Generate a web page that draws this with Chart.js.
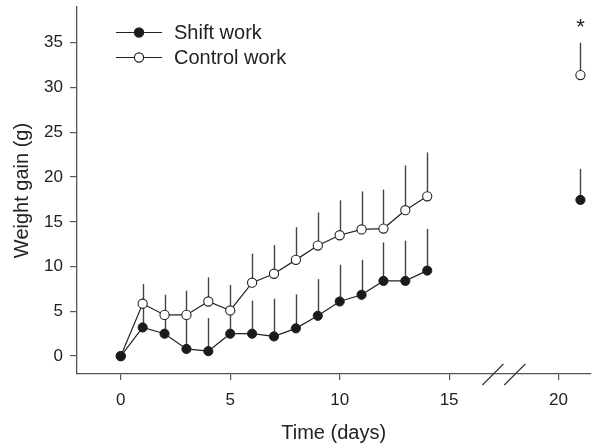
<!DOCTYPE html>
<html>
<head>
<meta charset="utf-8">
<script src="https://cdn.jsdelivr.net/npm/chart.js@4/dist/chart.umd.min.js"></script>
<style>
  html, body { margin: 0; padding: 0; background: #fff; }
  #wrap { width: 596px; height: 445px; }
</style>
</head>
<body>
<div id="wrap"><canvas id="chart" width="596" height="445"></canvas></div>
<script>
// values
const days = [0, 1, 2, 3, 4, 5, 6, 7, 8, 9, 10, 11, 12, 13, 14, 21];
const shiftWork = [0, 3.2, 2.5, 0.8, 0.55, 2.5, 2.5, 2.2, 3.1, 4.5, 6.1, 6.85, 8.4, 8.4, 9.55, 17.45];
const shiftErr = [0, 2.5, 2.3, 3.5, 3.7, 2.6, 3.7, 4.2, 3.8, 4.1, 4.1, 3.9, 4.3, 4.5, 4.65, 3.45];
const controlWork = [0, 5.85, 4.6, 4.6, 6.1, 5.1, 8.2, 9.2, 10.75, 12.35, 13.5, 14.15, 14.25, 16.3, 17.85, 31.4];
const controlErr = [0, 2.2, 2.25, 2.7, 2.7, 2.85, 3.25, 3.2, 3.65, 3.7, 3.9, 4.25, 4.35, 5.0, 4.9, 3.6];
const xTicks = [0, 5, 10, 15, 20];
const yTicks = [0, 5, 10, 15, 20, 25, 30, 35];
const breakDays = [17, 18];
const sigDays = [21];

const ink = '#222';
const axisColor = '#555';
const fontFamily = '"Liberation Sans", Arial, sans-serif';

const toPoints = (vals) => days.map((d, i) => ({ x: d, y: vals[i] }));

// no connecting segment across the axis break
const hideGap = (c) => (c.p1.parsed.x - c.p0.parsed.x > 1 ? 'transparent' : ink);

// error bars (upper only), drawn before the points so markers sit on top
const errorBars = {
  id: 'errorBars',
  beforeDatasetsDraw(chart) {
    const { ctx, scales: { x, y } } = chart;
    const errs = [shiftErr, controlErr];
    ctx.save();
    ctx.strokeStyle = '#444';
    ctx.lineWidth = 1.4;
    chart.data.datasets.forEach((ds, di) => {
      ds.data.forEach((p, i) => {
        const e = errs[di][i];
        if (!e) return;
        const px = Math.round(x.getPixelForValue(p.x)) + 0.5;
        ctx.beginPath();
        ctx.moveTo(px, y.getPixelForValue(p.y));
        ctx.lineTo(px, y.getPixelForValue(p.y + e));
        ctx.stroke();
      });
    });
    ctx.restore();
  }
};

// axis break marks, significance star, and the inline legend
const extras = {
  id: 'extras',
  afterDraw(chart) {
    const { ctx, scales: { x, y }, chartArea } = chart;
    ctx.save();
    ctx.strokeStyle = '#333';
    ctx.lineWidth = 1.2;
    breakDays.forEach(d => {
      const px = x.getPixelForValue(d);
      ctx.beginPath();
      ctx.moveTo(px - 10.5, chartArea.bottom + 11);
      ctx.lineTo(px + 10.5, chartArea.bottom - 10);
      ctx.stroke();
    });

    ctx.fillStyle = ink;
    ctx.font = '22px ' + fontFamily;
    ctx.textAlign = 'center';
    ctx.textBaseline = 'middle';
    sigDays.forEach(d => {
      const i = days.indexOf(d);
      const top = y.getPixelForValue(controlWork[i] + controlErr[i]);
      ctx.fillText('*', x.getPixelForValue(d), top - 15);
    });

    // legend
    ctx.font = '20px ' + fontFamily;
    ctx.textAlign = 'left';
    chart.data.datasets.forEach((ds, i) => {
      const ly = 32.5 + i * 25;
      ctx.strokeStyle = ink;
      ctx.lineWidth = 1.2;
      ctx.beginPath();
      ctx.moveTo(116, ly);
      ctx.lineTo(162, ly);
      ctx.stroke();
      ctx.beginPath();
      ctx.arc(139, ly, 4.6, 0, Math.PI * 2);
      ctx.fillStyle = ds.pointBackgroundColor;
      ctx.fill();
      ctx.stroke();
      ctx.fillStyle = ink;
      ctx.fillText(ds.label, 174, ly + 1);
    });
    ctx.restore();
  }
};

new Chart(document.getElementById('chart'), {
  type: 'line',
  data: {
    datasets: [
      {
        label: 'Shift work',
        data: toPoints(shiftWork),
        borderColor: ink,
        borderWidth: 1.2,
        pointRadius: 4.6,
        pointBorderWidth: 1,
        pointBorderColor: ink,
        pointBackgroundColor: '#1a1a1a',
        segment: { borderColor: hideGap }
      },
      {
        label: 'Control work',
        data: toPoints(controlWork),
        borderColor: ink,
        borderWidth: 1.2,
        pointRadius: 4.6,
        pointBorderWidth: 1.1,
        pointBorderColor: ink,
        pointBackgroundColor: '#ffffff',
        segment: { borderColor: hideGap }
      }
    ]
  },
  options: {
    responsive: false,
    animation: false,
    layout: { padding: { top: 7, right: 0, left: 0, bottom: 0 } },
    plugins: { legend: { display: false }, tooltip: { enabled: false } },
    scales: {
      x: {
        type: 'linear',
        min: -2,
        max: 21.45,
        afterBuildTicks: (s) => { s.ticks = xTicks.map(v => ({ value: v })); },
        afterFit: (s) => { s.height = 71; s.paddingLeft = 0; s.paddingRight = 0; },
        grid: { display: true, drawOnChartArea: false, drawTicks: true, tickLength: 6, tickColor: axisColor, lineWidth: 1.2 },
        border: { display: true, color: axisColor, width: 1.3 },
        ticks: { color: ink, padding: 10, font: { size: 17, family: fontFamily } },
        title: { display: true, text: 'Time (days)', color: ink, padding: { top: 0, bottom: 0 }, font: { size: 20, family: fontFamily } }
      },
      y: {
        min: -2,
        max: 39,
        afterBuildTicks: (s) => { s.ticks = yTicks.map(v => ({ value: v })); },
        afterFit: (s) => { s.width = 77; s.paddingTop = 0; s.paddingBottom = 0; },
        grid: { display: true, drawOnChartArea: false, drawTicks: true, tickLength: 7, tickColor: axisColor, lineWidth: 1.2 },
        border: { display: true, color: axisColor, width: 1.3 },
        ticks: { color: ink, padding: 7, font: { size: 17, family: fontFamily } },
        title: { display: true, text: 'Weight gain (g)', color: ink, padding: { top: 10, bottom: 0 }, font: { size: 20, family: fontFamily } }
      }
    }
  },
  plugins: [errorBars, extras]
});
</script>
</body>
</html>
